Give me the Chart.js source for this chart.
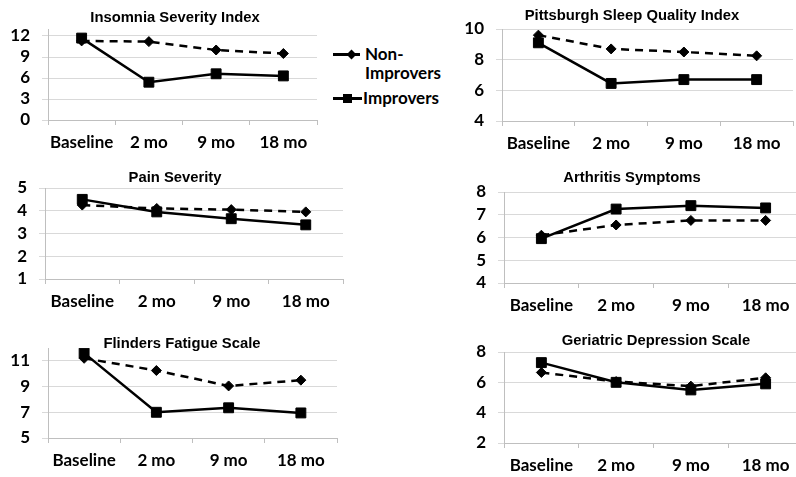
<!DOCTYPE html>
<html>
<head>
<meta charset="utf-8">
<title>Outcomes: Improvers vs Non-Improvers</title>
<script src="https://cdn.jsdelivr.net/npm/chart.js@4/dist/chart.umd.min.js"></script>
<style>
  html, body { margin: 0; padding: 0; background: #fff; }
  body { position: relative; width: 796px; height: 477px; overflow: hidden; }
  canvas { position: absolute; }
  .key-text { position: absolute; font: bold 17px Lato, sans-serif; line-height: 20px; color: #000; white-space: nowrap; }
  .key-line { position: absolute; height: 3px; background: #000; }
  .key-diamond { position: absolute; width: 7px; height: 7px; background: #000; transform: rotate(45deg); }
  .key-square { position: absolute; width: 9px; height: 9px; background: #000; }
</style>
</head>
<body>

<div class="key-line" style="left:333px; top:53px; width:27px;"></div>
<div class="key-diamond" style="left:348px; top:51px;"></div>
<div class="key-text" style="left:365px; top:44px;">Non-</div>
<div class="key-text" style="left:365px; top:63px;">Improvers</div>
<div class="key-line" style="left:333px; top:97px; width:29px;"></div>
<div class="key-square" style="left:343px; top:94px;"></div>
<div class="key-text" style="left:363px; top:88px;">Improvers</div>

<script>
// ---------------------------------------------------------------------------
// Data (means at each time point)
// ---------------------------------------------------------------------------
const timepoints = ["Baseline", "2 mo", "9 mo", "18 mo"];

const insomniaNon = [11.3, 11.2, 10.0, 9.5];
const insomniaImp = [11.7, 5.4, 6.6, 6.3];
const insomniaTicks = [0, 3, 6, 9, 12];

const psqiNon = [9.6, 8.7, 8.5, 8.25];
const psqiImp = [9.1, 6.45, 6.7, 6.7];
const psqiTicks = [4, 6, 8, 10];

const painNon = [4.25, 4.1, 4.05, 3.95];
const painImp = [4.5, 3.95, 3.65, 3.38];
const painTicks = [1, 2, 3, 4, 5];

const arthritisNon = [6.1, 6.55, 6.75, 6.75];
const arthritisImp = [5.95, 7.25, 7.4, 7.3];
const arthritisTicks = [4, 5, 6, 7, 8];

const fatigueNon = [11.2, 10.25, 9.05, 9.5];
const fatigueImp = [11.6, 7.0, 7.35, 6.95];
const fatigueTicks = [5, 7, 9, 11];

const depressionNon = [6.65, 6.05, 5.75, 6.3];
const depressionImp = [7.3, 6.0, 5.5, 5.9];
const depressionTicks = [2, 4, 6, 8];

// ---------------------------------------------------------------------------
// Panel layout (page px): plot = [left, top, right, bottom], canvas = [left, top, bottom],
// title centre (tx, ty). Excel centres each title over the whole chart object,
// so the title is moved after layout rather than centred on the canvas.
// ---------------------------------------------------------------------------
const panels = [
  { title: "Insomnia Severity Index", non: insomniaNon, imp: insomniaImp, ticks: insomniaTicks, min: 0, max: 13,
    plot: [48, 29, 317, 120], canvas: [0, 0, 160], tx: 175, ty: 18 },
  { title: "Pittsburgh Sleep Quality Index", non: psqiNon, imp: psqiImp, ticks: psqiTicks, min: 4, max: 10,
    plot: [502, 29, 793, 121], canvas: [455, 0, 160], tx: 632, ty: 16 },
  { title: "Pain Severity", non: painNon, imp: painImp, ticks: painTicks, min: 1, max: 5,
    plot: [45, 188, 343, 279], canvas: [0, 160, 320], tx: 175, ty: 178 },
  { title: "Arthritis Symptoms", non: arthritisNon, imp: arthritisImp, ticks: arthritisTicks, min: 4, max: 8,
    plot: [504, 192, 803, 283], canvas: [455, 160, 320], tx: 632, ty: 178 },
  { title: "Flinders Fatigue Scale", non: fatigueNon, imp: fatigueImp, ticks: fatigueTicks, min: 5, max: 12,
    plot: [48, 348, 337, 438], canvas: [0, 320, 477], tx: 182, ty: 344 },
  { title: "Geriatric Depression Scale", non: depressionNon, imp: depressionImp, ticks: depressionTicks, min: 2, max: 8,
    plot: [504, 352, 803, 443], canvas: [455, 320, 477], tx: 656, ty: 341 },
];

const GRID = "#d9d9d9";
const AXIS = "#bfbfbf";
const TICK_FONT = { family: "Lato, sans-serif", weight: "bold", size: 17 };
const TITLE_SIZE = 14.8;
const TITLE_LH = TITLE_SIZE * 1.2;

function makePanel(p) {
  const [pl, pt, pr, pb] = p.plot;
  const [cl, ct, cb] = p.canvas;
  const padRight = 8;
  const padTop = p.ty - ct - TITLE_LH / 2;
  const padBottom = pt - ct - padTop - TITLE_LH;

  const canvas = document.createElement("canvas");
  canvas.width = pr + padRight - cl;
  canvas.height = cb - ct;
  canvas.style.left = cl + "px";
  canvas.style.top = ct + "px";
  document.body.appendChild(canvas);

  const titleCentre = {
    id: "titleCentre",
    afterLayout(chart) {
      const t = chart.titleBlock;
      const w = t.right - t.left;
      t.left = p.tx - cl - w / 2;
      t.right = t.left + w;
    },
  };

  new Chart(canvas, {
    type: "line",
    data: {
      labels: timepoints,
      datasets: [
        {
          label: "Non-Improvers",
          data: p.non,
          order: 1,
          borderColor: "#000",
          backgroundColor: "#000",
          borderWidth: 2.5,
          borderDash: [8, 6],
          pointStyle: "rectRot",
          pointRadius: 5,
          pointBorderWidth: 1,
        },
        {
          label: "Improvers",
          data: p.imp,
          order: 0,
          borderColor: "#000",
          backgroundColor: "#000",
          borderWidth: 2.5,
          pointStyle: "rect",
          pointRadius: 7,
          pointBorderWidth: 1,
        },
      ],
    },
    options: {
      responsive: false,
      animation: false,
      layout: { padding: { left: 0, right: padRight, top: 0, bottom: 0 } },
      plugins: {
        legend: { display: false },
        tooltip: { enabled: false },
        title: {
          display: true,
          text: p.title,
          color: "#000",
          font: { family: "'Liberation Sans', Arial, sans-serif", weight: "bold", size: TITLE_SIZE, lineHeight: 1.2 },
          padding: { top: padTop, bottom: padBottom },
        },
      },
      scales: {
        x: {
          offset: true,
          grid: { offset: true, drawOnChartArea: false, tickLength: 5, color: AXIS },
          border: { color: AXIS },
          ticks: { color: "#000", font: TICK_FONT, padding: 7, maxRotation: 0, autoSkip: false },
          afterFit: (scale) => { scale.height = cb - pb; },
        },
        y: {
          min: p.min,
          max: p.max,
          grid: { color: GRID, tickLength: 6 },
          border: { color: AXIS },
          ticks: { color: "#000", font: TICK_FONT, padding: 12, autoSkip: false },
          afterBuildTicks: (scale) => { scale.ticks = p.ticks.map((v) => ({ value: v })); },
          afterFit: (scale) => { scale.width = pl - cl; },
        },
      },
    },
    plugins: [titleCentre],
  });
}

panels.forEach(makePanel);
</script>
</body>
</html>
